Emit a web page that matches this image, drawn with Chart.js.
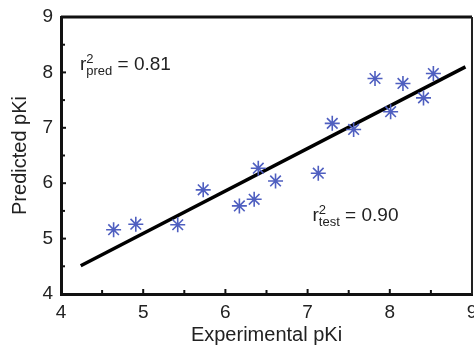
<!DOCTYPE html>
<html>
<head>
<meta charset="utf-8">
<script src="https://cdn.jsdelivr.net/npm/chart.js@4.4.1/dist/chart.umd.min.js"></script>
<style>
html,body{margin:0;padding:0;background:#fff;}
#wrap{width:474px;height:347px;position:relative;}
</style>
</head>
<body>
<div id="wrap"><canvas id="c"></canvas></div>
<script>
// ===== data =====
const EXP_PKI=[4.64,4.91,5.42,5.73,6.17,6.35,6.40,6.61,7.13,7.30,7.56,7.82,8.01,8.16,8.41,8.53];
const PRED_PKI=[5.16,5.26,5.25,5.88,5.59,5.71,6.27,6.04,6.18,7.08,6.97,7.89,7.29,7.80,7.54,7.98];
const FIT_X=[4.24,8.92];
const FIT_Y=[4.51,8.10];
const X_TICKS=[4,5,6,7,8,9];
const Y_TICKS=[4,5,6,7,8,9];
const LABEL_PRED={x:4.23,y:8.04,sub:'pred',value:'0.81'};
const LABEL_TEST={x:7.06,y:5.31,sub:'test',value:'0.90'};

const FONT='"Liberation Sans",Arial,sans-serif';
const STAR='#4f5fc0';

// inward major/minor ticks + right/top frame
const frame={id:'frame',afterDatasetsDraw(chart){
  const {ctx,chartArea:a,scales:{x,y}}=chart;
  ctx.save();ctx.strokeStyle='#111';ctx.lineCap='butt';
  ctx.lineWidth=2;
  for(let v=4;v<=9;v+=0.5){
    const px=x.getPixelForValue(v),len=Number.isInteger(v)?5:4;
    ctx.beginPath();ctx.moveTo(px,a.bottom);ctx.lineTo(px,a.bottom-len);ctx.stroke();
    const py=y.getPixelForValue(v);
    ctx.beginPath();ctx.moveTo(a.left,py);ctx.lineTo(a.left+len,py);ctx.stroke();
  }
  ctx.lineWidth=3;
  ctx.beginPath();ctx.moveTo(a.left,a.top);ctx.lineTo(a.right,a.top);ctx.stroke();
  ctx.lineWidth=2;ctx.strokeStyle='#222';
  ctx.beginPath();ctx.moveTo(a.right,a.top);ctx.lineTo(a.right,a.bottom);ctx.stroke();
  ctx.restore();
}};

// r^2 labels with super/subscripts
const r2Labels={id:'r2Labels',afterDraw(chart){
  const {ctx,scales:{x,y}}=chart;
  ctx.save();ctx.fillStyle='#222';ctx.textBaseline='alphabetic';
  [LABEL_PRED,LABEL_TEST].forEach(l=>{
    let px=x.getPixelForValue(l.x);const py=y.getPixelForValue(l.y);
    ctx.font='19px '+FONT;ctx.fillText('r',px,py);px+=ctx.measureText('r').width;
    ctx.font='13px '+FONT;ctx.fillText('2',px,py-7);
    ctx.fillText(l.sub,px,py+5);px+=ctx.measureText(l.sub).width;
    ctx.font='19px '+FONT;ctx.fillText(' = '+l.value,px,py);
  });
  ctx.restore();
}};

new Chart(document.getElementById('c'),{
  type:'scatter',
  data:{datasets:[
    {type:'line',data:FIT_X.map((v,i)=>({x:v,y:FIT_Y[i]})),borderColor:'#000',borderWidth:3.5,pointRadius:0,fill:false,order:2},
    {data:EXP_PKI.map((v,i)=>({x:v,y:PRED_PKI[i]})),pointStyle:'star',pointRadius:7.5,borderColor:STAR,backgroundColor:STAR,pointBorderWidth:1.6,order:1}
  ]},
  options:{responsive:true,maintainAspectRatio:false,animation:false,
    layout:{autoPadding:false,padding:{top:17,right:2,left:0,bottom:0}},
    plugins:{legend:{display:false},tooltip:{enabled:false}},
    scales:{
      x:{type:'linear',min:4,max:9,
        afterBuildTicks:s=>{s.ticks=X_TICKS.map(v=>({value:v}));},
        afterFit:s=>{s.height=53;s.paddingLeft=0;s.paddingRight=0;},
        grid:{display:false,drawTicks:false},
        border:{display:true,color:'#111',width:3},
        ticks:{padding:7,color:'#222',font:{family:FONT,size:19},maxRotation:0,autoSkip:false},
        title:{display:true,text:'Experimental pKi',color:'#222',font:{family:FONT,size:20},padding:{top:0,bottom:0}}},
      y:{type:'linear',min:4,max:9,
        afterBuildTicks:s=>{s.ticks=Y_TICKS.map(v=>({value:v}));},
        afterFit:s=>{s.width=61;s.paddingTop=0;s.paddingBottom=0;},
        grid:{display:false,drawTicks:false},
        border:{display:true,color:'#111',width:3},
        ticks:{padding:8,color:'#222',font:{family:FONT,size:19},autoSkip:false},
        title:{display:true,text:'Predicted pKi',color:'#222',font:{family:FONT,size:20},padding:{top:8,bottom:0}}}
    }
  },
  plugins:[frame,r2Labels]
});
</script>
</body>
</html>
